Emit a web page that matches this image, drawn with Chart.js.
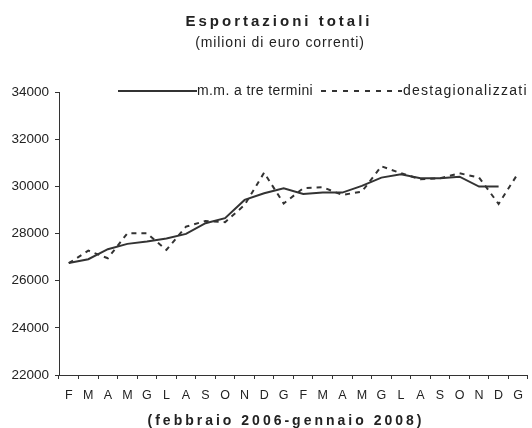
<!DOCTYPE html>
<html>
<head>
<meta charset="utf-8">
<script src="https://cdn.jsdelivr.net/npm/chart.js@4/dist/chart.umd.min.js"></script>
<style>
  html, body { margin: 0; padding: 0; background: #fff; }
  #wrap { width: 532px; height: 428px; }
</style>
</head>
<body>
<div id="wrap"><canvas id="myChart" width="532" height="428"></canvas></div>
<script>
var mesi = ["F", "M", "A", "M", "G", "L", "A", "S", "O", "N", "D", "G",
            "F", "M", "A", "M", "G", "L", "A", "S", "O", "N", "D", "G"];
var mediaMobile = [26750, 26910, 27335, 27560, 27660, 27785, 27983, 28435, 28650, 29424, 29706, 29920,
                   29680, 29734, 29734, 30017, 30370, 30512, 30343, 30343, 30410, 29990, 29990, null];
var destagionalizzati = [26740, 27275, 26950, 28010, 28010, 27305, 28290, 28530, 28480, 29210, 30580, 29270,
                         29920, 29960, 29636, 29775, 30850, 30555, 30300, 30340, 30555, 30370, 29255, 30555];
var yTicks = [22000, 24000, 26000, 28000, 30000, 32000, 34000];

var lineColor = "#333333";
var textColor = "#222222";
var fontName = "'Liberation Sans', Arial, sans-serif";

// title, subtitle, axis title and legend drawn by hand to sit where the original has them
var decorations = {
  id: "decorations",
  afterDraw: function (chart) {
    var ctx = chart.ctx;
    ctx.save();
    ctx.fillStyle = textColor;
    ctx.textAlign = "center";
    ctx.textBaseline = "middle";

    ctx.font = "bold 15px " + fontName;
    ctx.letterSpacing = "3px";
    ctx.fillText("Esportazioni totali", 279, 22);

    ctx.font = "14px " + fontName;
    ctx.letterSpacing = "0.9px";
    ctx.fillText("(milioni di euro correnti)", 280, 43);

    ctx.font = "bold 14px " + fontName;
    ctx.letterSpacing = "3px";
    ctx.fillText("(febbraio 2006-gennaio 2008)", 286, 421);

    // legend
    ctx.font = "14px " + fontName;
    ctx.letterSpacing = "0.4px";
    ctx.textAlign = "left";
    var ly = 91;
    ctx.strokeStyle = lineColor;
    ctx.lineWidth = 2;
    ctx.beginPath();
    ctx.moveTo(118, ly);
    ctx.lineTo(197, ly);
    ctx.stroke();
    ctx.fillText("m.m. a tre termini", 197, ly);

    ctx.setLineDash([5, 6]);
    ctx.beginPath();
    ctx.moveTo(321, ly);
    ctx.lineTo(402, ly);
    ctx.stroke();
    ctx.setLineDash([]);
    ctx.letterSpacing = "1.25px";
    ctx.fillText("destagionalizzati", 403, ly);
    ctx.restore();
  }
};

var chartContext = document.getElementById("myChart").getContext("2d");
var chart = new Chart(chartContext, {
  type: "line",
  data: {
    labels: mesi,
    datasets: [
      {
        label: "m.m. a tre termini",
        data: mediaMobile,
        borderColor: lineColor,
        borderWidth: 2,
        pointRadius: 0,
        tension: 0,
        fill: false
      },
      {
        label: "destagionalizzati",
        data: destagionalizzati,
        borderColor: lineColor,
        borderWidth: 2,
        borderDash: [5, 5],
        pointRadius: 0,
        tension: 0,
        fill: false
      }
    ]
  },
  options: {
    responsive: false,
    animation: false,
    layout: { padding: { top: 92, right: 0, left: 0, bottom: 0 } },
    plugins: {
      legend: { display: false },
      title: { display: false },
      tooltip: { enabled: false }
    },
    scales: {
      x: {
        type: "category",
        offset: true,
        grid: { drawOnChartArea: false, drawTicks: true, tickLength: 4, offset: true, color: lineColor },
        border: { color: lineColor, width: 1 },
        ticks: {
          color: textColor,
          font: { family: fontName, size: 12.5 },
          padding: 9,
          maxRotation: 0,
          autoSkip: false
        },
        afterFit: function (scale) { scale.height = 53; }
      },
      y: {
        min: 22000,
        max: 34000,
        afterBuildTicks: function (scale) {
          scale.ticks = yTicks.map(function (v) { return { value: v }; });
        },
        grid: { drawOnChartArea: false, drawTicks: true, tickLength: 4, color: lineColor },
        border: { color: lineColor, width: 1 },
        ticks: {
          color: textColor,
          font: { family: fontName, size: 13.5 },
          padding: 6,
          callback: function (v) { return String(v); }
        },
        afterFit: function (scale) { scale.width = 59; }
      }
    }
  },
  plugins: [decorations]
});
</script>
</body>
</html>
